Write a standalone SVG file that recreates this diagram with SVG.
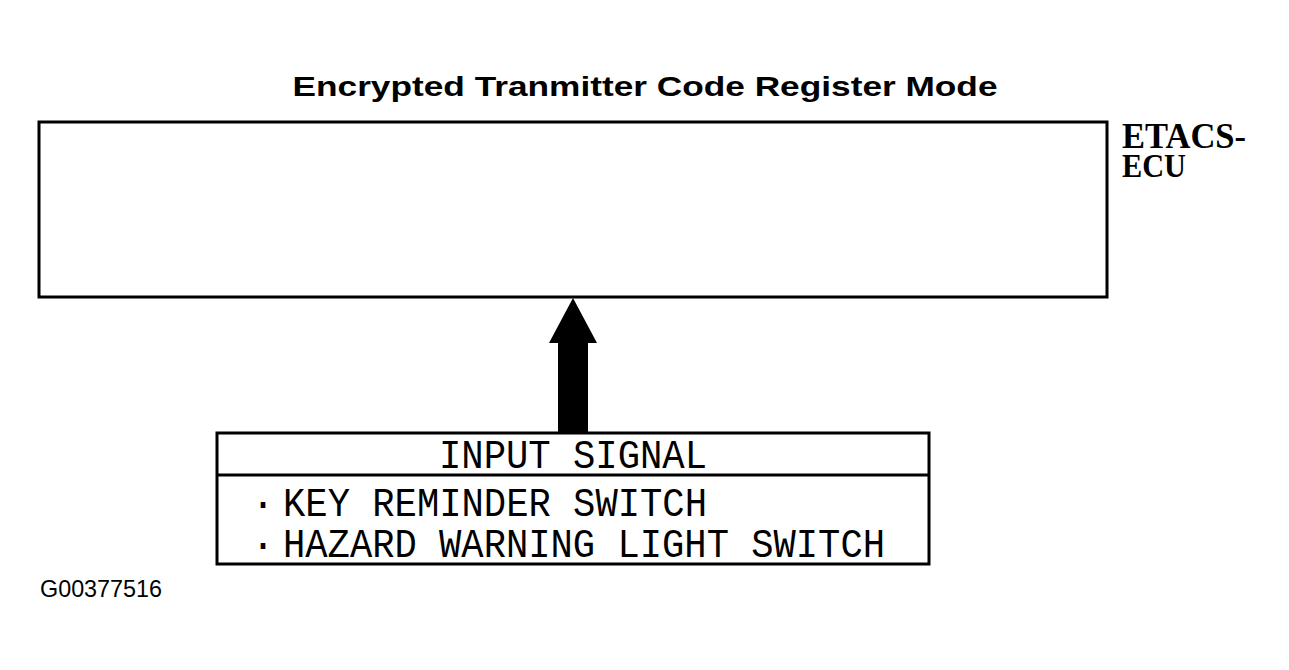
<svg xmlns="http://www.w3.org/2000/svg" width="1289" height="670" viewBox="0 0 1289 670">
<style>
.box{fill:none;stroke:#000;stroke-width:3}
.mono{font-family:"Liberation Mono","DejaVu Sans Mono",monospace;fill:#000}
.slab{font-family:"Liberation Serif","DejaVu Serif",serif;font-weight:bold;fill:#000}
.sans{font-family:"Liberation Sans",Arial,sans-serif;fill:#000}
</style>
<rect width="1289" height="670" fill="#fff"/>
<text class="sans" x="645" y="96" font-size="28" font-weight="bold" text-anchor="middle" textLength="705" lengthAdjust="spacingAndGlyphs">Encrypted Tranmitter Code Register Mode</text>
<g id="etacs-ecu">
<rect class="box" x="39" y="122" width="1068" height="175"/>
<text class="slab" x="1122" y="148" font-size="36" textLength="124" lengthAdjust="spacingAndGlyphs">ETACS-</text>
<text class="slab" x="1122" y="177" font-size="34" textLength="64" lengthAdjust="spacingAndGlyphs">ECU</text>
</g>
<g id="input-signal">
<rect class="box" x="217" y="433" width="712" height="131"/>
<line class="box" x1="217" y1="475" x2="929" y2="475"/>
<text class="mono" x="573" y="468" font-size="40" text-anchor="middle" textLength="268" lengthAdjust="spacingAndGlyphs">INPUT SIGNAL</text>
<text class="mono" x="263" y="516" font-size="40" text-anchor="middle">·</text>
<text class="mono" x="283" y="516" font-size="40" textLength="424" lengthAdjust="spacingAndGlyphs">KEY REMINDER SWITCH</text>
<text class="mono" x="263" y="557" font-size="40" text-anchor="middle">·</text>
<text class="mono" x="283" y="557" font-size="40" textLength="602" lengthAdjust="spacingAndGlyphs">HAZARD WARNING LIGHT SWITCH</text>
</g>
<g id="connectors">
<polygon points="573,298 597,343 588,343 588,432 558,432 558,343 549,343" fill="#000"/>
</g>
<text class="sans" x="40" y="597" font-size="24" textLength="122" lengthAdjust="spacingAndGlyphs">G00377516</text>
</svg>
